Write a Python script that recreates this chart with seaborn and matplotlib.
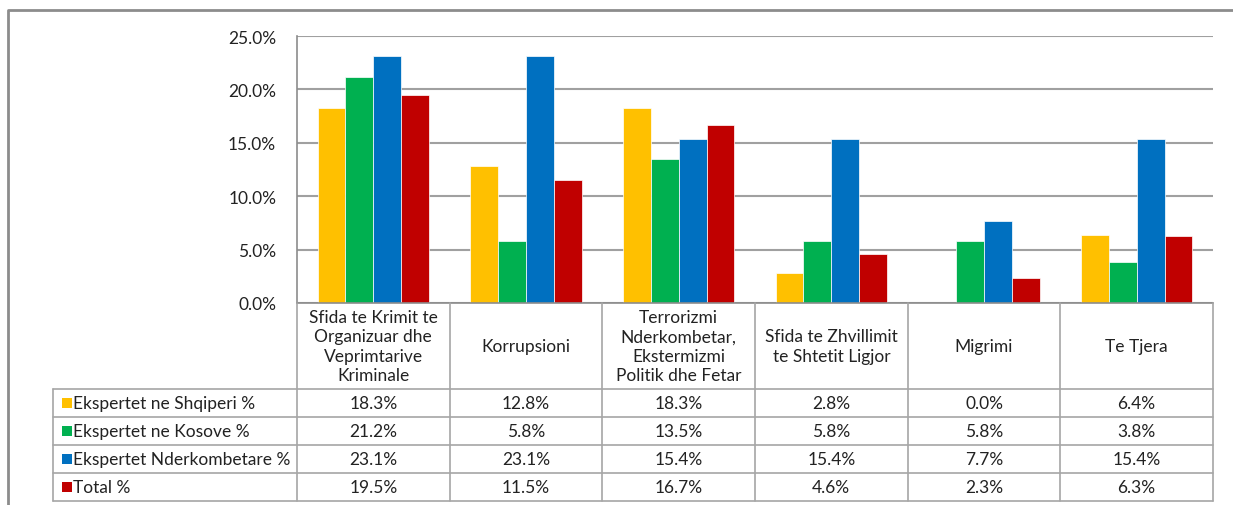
import numpy as np
import pandas as pd
import seaborn as sns
import matplotlib.pyplot as plt
import matplotlib.transforms as mtrans
from matplotlib.lines import Line2D
from matplotlib.patches import Rectangle

# ---------------- data ----------------
categories = [
    "Sfida te Krimit te\nOrganizuar dhe\nVeprimtarive\nKriminale",
    "Korrupsioni",
    "Terrorizmi\nNderkombetar,\nEkstermizmi\nPolitik dhe Fetar",
    "Sfida te Zhvillimit\nte Shtetit Ligjor",
    "Migrimi",
    "Te Tjera",
]
series_names = [
    "Ekspertet ne Shqiperi %",
    "Ekspertet ne Kosove %",
    "Ekspertet Nderkombetare %",
    "Total %",
]
shqiperi = [18.3, 12.8, 18.3, 2.8, 0.0, 6.4]
kosove = [21.2, 5.8, 13.5, 5.8, 5.8, 3.8]
nderkombetare = [23.1, 23.1, 15.4, 15.4, 7.7, 15.4]
total = [19.5, 11.5, 16.7, 4.6, 2.3, 6.3]
y_ticks = [0, 5, 10, 15, 20, 25]

colors = ["#FFC000", "#00B050", "#0070C0", "#C00000"]

all_series = [shqiperi, kosove, nderkombetare, total]
df = pd.DataFrame(
    [(c, s, v) for s, vals in zip(series_names, all_series) for c, v in zip(categories, vals)],
    columns=["cat", "series", "val"],
)

# ---------------- figure ----------------
sns.set_theme(style="white")
plt.rcParams["font.family"] = ["Lato", "DejaVu Sans"]

W, H = 1233, 506
fig = plt.figure(figsize=(W / 100, H / 100), dpi=100)
fx = lambda px: px / W
fy = lambda py: 1 - py / H

ax = fig.add_axes([fx(297), fy(304), fx(1213) - fx(297), fy(37) - fy(304)])
sns.barplot(
    data=df, x="cat", y="val", hue="series", order=categories, hue_order=series_names,
    palette=colors, saturation=1, width=0.73, ax=ax, legend=False,
    edgecolor="white", linewidth=0.5,
)
ax.set_xlim(-0.5, len(categories) - 0.5)
ax.set_ylim(0, 25)
ax.set_yticks(y_ticks)
ax.set_yticklabels([f"{t:.1f}%" for t in y_ticks])
ax.set_xticks([])
ax.set_xlabel("")
ax.set_ylabel("")
ax.yaxis.grid(True, color="#A0A0A0", linewidth=1.5)
ax.set_axisbelow(True)
for s in ["top", "right"]:
    ax.spines[s].set_visible(False)
for s in ["left", "bottom"]:
    ax.spines[s].set_color("#8C8C8C")
    ax.spines[s].set_linewidth(1.2)
ax.tick_params(axis="y", length=0, pad=15, labelsize=12.5, labelcolor="#222222")

# ---------------- data table ----------------
trans = mtrans.blended_transform_factory(ax.transData, fig.transFigure)
line_c = "#A6A6A6"
row_bounds = [390, 418, 446, 474, 502]
fs = 12.5

# vertical lines at category boundaries
for i in range(len(categories) + 1):
    fig.add_artist(Line2D([i - 0.5, i - 0.5], [fy(304), fy(502)], transform=trans,
                          color=line_c, linewidth=1.2))
# left edge of legend column
fig.add_artist(Line2D([fx(53), fx(53)], [fy(390), fy(502)], transform=fig.transFigure,
                      color=line_c, linewidth=1.2))
# horizontal lines
for yb in row_bounds:
    fig.add_artist(Line2D([fx(53), fx(1213)], [fy(yb), fy(yb)], transform=fig.transFigure,
                          color=line_c, linewidth=1.2))

# header (category names)
for i, cat in enumerate(categories):
    fig.text(i, fy(347), cat, transform=trans, ha="center", va="center",
             fontsize=fs, linespacing=1.25, multialignment="center", color="#222222")

# rows
for r, (name, vals, col) in enumerate(zip(series_names, all_series, colors)):
    yc = (row_bounds[r] + row_bounds[r + 1]) / 2
    fig.add_artist(Rectangle((fx(62), fy(yc + 5)), fx(10), 10 / H, transform=fig.transFigure,
                             facecolor=col, edgecolor="none"))
    fig.text(fx(73), fy(yc), name, ha="left", va="center", fontsize=fs, color="#222222")
    for i, v in enumerate(vals):
        fig.text(i, fy(yc), f"{v:.1f}%", transform=trans, ha="center", va="center",
                 fontsize=fs, color="#222222")

# outer chart frame
fig.add_artist(Line2D([fx(8), fx(8), fx(1233)], [fy(506), fy(11), fy(11)],
                      transform=fig.transFigure, color="#8C8C8C", linewidth=2))

fig.savefig("out.png", dpi=100)
